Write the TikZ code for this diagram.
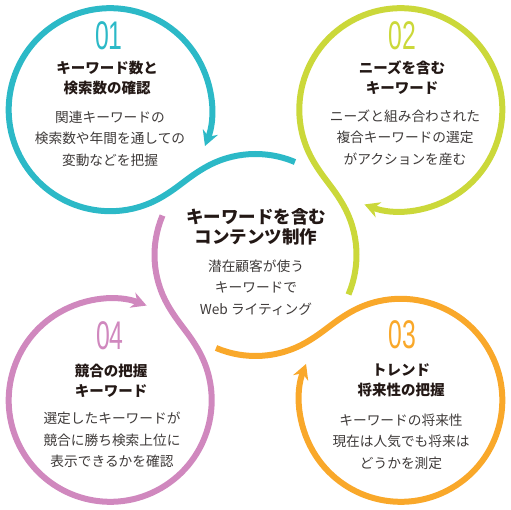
\documentclass[tikz,border=0pt]{standalone}
\usepackage{fontspec}
\usepackage{graphicx}
\setmainfont{Noto Sans CJK JP}
\newfontfamily\numfont{Liberation Sans}
\usetikzlibrary{arrows.meta}
\definecolor{cteal}{HTML}{2CB9C7}
\definecolor{cgreen}{HTML}{CBD83A}
\definecolor{corange}{HTML}{F9A82A}
\definecolor{cpink}{HTML}{D088BE}
\definecolor{ctitle}{HTML}{231815}
\definecolor{cbody}{HTML}{3E3A39}
\begin{document}
\begin{tikzpicture}[x=1pt,y=1pt,
  loopline/.style={line width=6pt, -{Stealth[length=15pt,width=16pt,inset=5pt]}},
  numtext/.style={inner sep=0pt, anchor=base, font=\fontsize{40}{40}\numfont},
  titletext/.style={inner sep=0pt, align=center, text=ctitle, font=\fontsize{14.5}{20}\selectfont\bfseries},
  bigtitle/.style={inner sep=0pt, align=center, text=ctitle, font=\fontsize{17.5}{20}\selectfont\bfseries},
  bodytext/.style={inner sep=0pt, align=center, text=cbody, font=\fontsize{13.7}{21.5}\selectfont},
]
\useasboundingbox (0,0) rectangle (511,510);
\coordinate (C) at (255.5,255);
\foreach \rot/\col in {0/cteal, -90/cgreen, 180/corange, 90/cpink}{
  \begin{scope}[shift={(C)}, rotate=\rot]
    \coordinate (s) at (67:101);
    \coordinate (j) at (-94.56,57.41);
    \draw[loopline, draw=\col, fill=none] (s) arc[start angle=67, end angle=120, radius=101]
      to[out=210, in=30] (j) arc[start angle=-60, end angle=-381, radius=101.5];
  \end{scope}
}
% 01
\node[numtext, text=cteal] (n1) at (109,460) {\scalebox{0.62}[1]{01}};
\node[titletext] (t1) at (107,432) {キーワード数と\\検索数の確認};
\node[bodytext] (b1) at (110,371.5) {関連キーワードの\\検索数や年間を通しての\\変動などを把握};
% 02
\node[numtext, text=cgreen] (n2) at (402,460) {\scalebox{0.62}[1]{02}};
\node[titletext] (t2) at (402,432) {ニーズを含む\\キーワード};
\node[bodytext] (b2) at (405,372.5) {ニーズと組み合わされた\\複合キーワードの選定\\がアクションを産む};
% 03
\node[numtext, text=corange] (n3) at (402,161.5) {\scalebox{0.62}[1]{03}};
\node[titletext] (t3) at (401,130) {トレンド\\将来性の把握};
\node[bodytext] (b3) at (401,68.3) {キーワードの将来性\\現在は人気でも将来は\\どうかを測定};
% 04
\node[numtext, text=cpink] (n4) at (110,160) {\scalebox{0.62}[1]{04}};
\node[titletext] (t4) at (111,128.7) {競合の把握\\キーワード};
\node[bodytext] (b4) at (112,70) {選定したキーワードが\\競合に勝ち検索上位に\\表示できるかを確認};
% center
\node[bigtitle] (tc) at (256,283) {キーワードを含む\\コンテンツ制作};
\node[bodytext] (bc) at (256,222.5) {潜在顧客が使う\\キーワードで\\Web ライティング};
\end{tikzpicture}
\end{document}
